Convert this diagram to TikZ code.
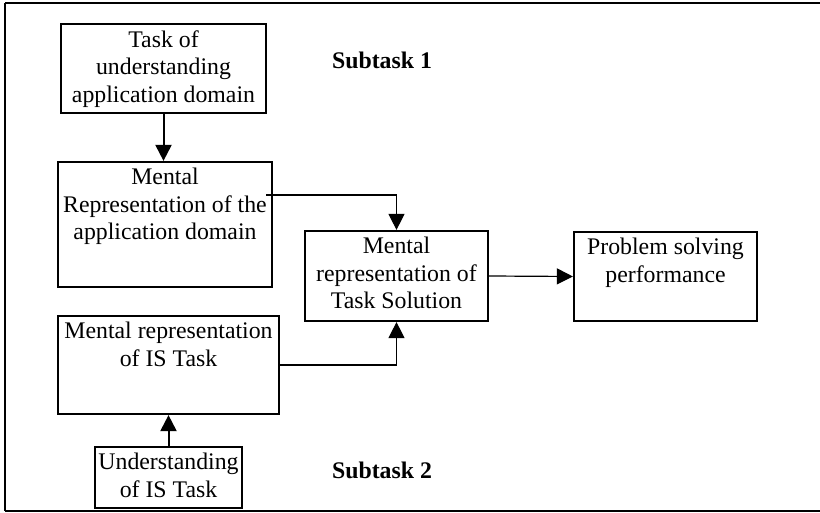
\documentclass[tikz,border=0pt]{standalone}
\usepackage{fontspec}
\setmainfont{Liberation Serif}
\usetikzlibrary{arrows.meta}
\begin{document}
\begin{tikzpicture}[x=0.5pt,y=-0.5pt,
  box/.style={draw,line width=1.1pt,inner sep=0pt,minimum width=#1},
  txt/.style={anchor=north,inner sep=0pt,align=center,font=\fontsize{11.9pt}{13.75pt}\selectfont},
  lbl/.style={inner sep=0pt,font=\fontsize{11.9pt}{13.75pt}\selectfont\bfseries},
  arr/.style={-{Triangle[length=8pt,width=8pt]},line width=0.6pt},
  arrthick/.style={-{Triangle[length=8pt,width=8pt]},line width=1pt}]
\useasboundingbox (0,0) rectangle (820,513);
% frame
\draw[line width=1.4pt] (820,3) -- (5,3);
\draw[line width=1pt] (5,3) -- (5,511);
\draw[line width=0.8pt] (5,511) -- (820,511);
% boxes
\node[box=102.5pt,minimum height=44.5pt] (A) at (163.5,68.5) {};
\node[txt] (At) at ([yshift=-3.5pt]A.north) {Task of\\understanding\\application domain};
\node[box=107pt,minimum height=62.5pt] (B) at (165,224.5) {};
\node[txt] (Bt) at ([yshift=-3.5pt]B.north) {Mental\\Representation of the\\application domain};
\node[box=91.5pt,minimum height=45pt] (C) at (396.5,276) {};
\node[txt] (Ct) at ([yshift=-3.5pt]C.north) {Mental\\representation of\\Task Solution};
\node[box=91.5pt,minimum height=44.5pt] (D) at (665.5,276.5) {};
\node[txt] (Dt) at ([yshift=-3.5pt]D.north) {Problem solving\\performance};
\node[box=110.5pt,minimum height=49pt] (E) at (168.5,365) {};
\node[txt] (Et) at ([yshift=-3.5pt]E.north) {Mental representation\\of IS Task};
\node[box=73.5pt,minimum height=30.5pt] (F) at (168.5,477.5) {};
\node[txt] (Ft) at ([yshift=-3.5pt]F.north) {Understanding\\of IS Task};
% labels
\node[lbl,anchor=base] (S1) at (382,69) {Subtask 1};
\node[lbl,anchor=base] (S2) at (382,479) {Subtask 2};
% connectors
\coordinate (b1) at (266,195);
\draw[arrthick] (A.south) -- (A.south |- B.north);
\draw[arr] (b1) -| (C.north);
\draw[arr] (E.east) -| (C.south);
\draw[arr] (C.east) -- (D.west);
\draw[arrthick] (F.north) -- (E.south);
\end{tikzpicture}
\end{document}
